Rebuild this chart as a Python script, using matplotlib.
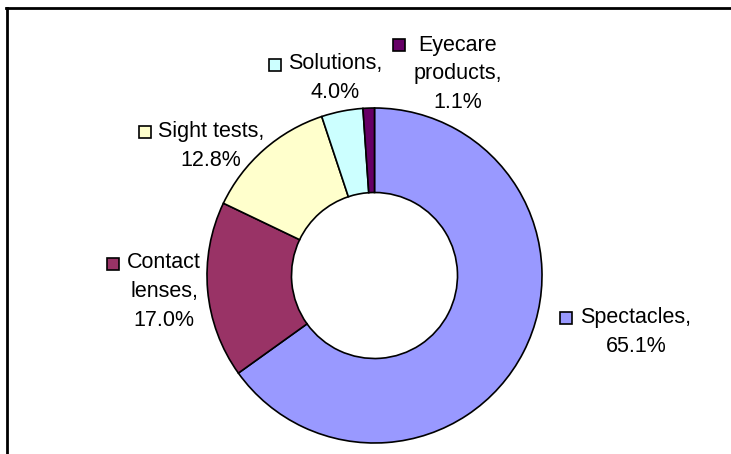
import matplotlib
matplotlib.use('Agg')
from matplotlib import pyplot as plt
from matplotlib.patches import Rectangle

labels = ['Spectacles', 'Contact lenses', 'Sight tests', 'Solutions', 'Eyecare products']
shares = [65.1, 17.0, 12.8, 4.0, 1.1]
colors = ['#9999FF', '#993366', '#FFFFCC', '#CCFFFF', '#660066']

# label lines (text split as in the original chart)
label_lines = [
    ['Spectacles,', '65.1%'],
    ['Contact', 'lenses,', '17.0%'],
    ['Sight tests,', '12.8%'],
    ['Solutions,', '4.0%'],
    ['Eyecare', 'products,', '1.1%'],
]

plt.rcParams['font.family'] = ['Liberation Sans', 'DejaVu Sans']

W, H = 731, 454
fig = plt.figure(figsize=(W / 100, H / 100), dpi=100)
ax = fig.add_axes([0, 0, 1, 1])
ax.set_xlim(0, W)
ax.set_ylim(0, H)
ax.set_aspect('equal')
ax.axis('off')

cx, cy = 374.5, H - 275.5
r_out, r_in = 167.5, 83

ax.pie(shares, colors=colors, startangle=90, counterclock=False,
       center=(cx, cy), radius=r_out,
       wedgeprops=dict(width=r_out - r_in, edgecolor='black', linewidth=1.2))
ax.set_xlim(0, W)
ax.set_ylim(0, H)

# label placement in pixels from top-left: square centre, text centre x, first line y
anchors = [
    ((566, 318), 636, 318),
    ((113, 264), 164, 263),
    ((145, 132), 211, 131),
    ((275, 65), 335, 64),
    ((399, 45), 458, 45),
]

fs = 15.5
for ((sx, sy), tx, ly), lines, col in zip(anchors, label_lines, colors):
    ax.add_patch(Rectangle((sx - 6, H - sy - 6), 12, 12, facecolor=col,
                           edgecolor='black', linewidth=1.2))
    for i, line in enumerate(lines):
        ax.text(tx, H - ly - i * 29, line, fontsize=fs, ha='center', va='center')

# frame lines (top and left visible)
ax.plot([6, W], [H - 7.5, H - 7.5], color='black', linewidth=2)
ax.plot([6.5, 6.5], [H - 7.5, 0], color='black', linewidth=2)

fig.savefig('out.png', dpi=100)
